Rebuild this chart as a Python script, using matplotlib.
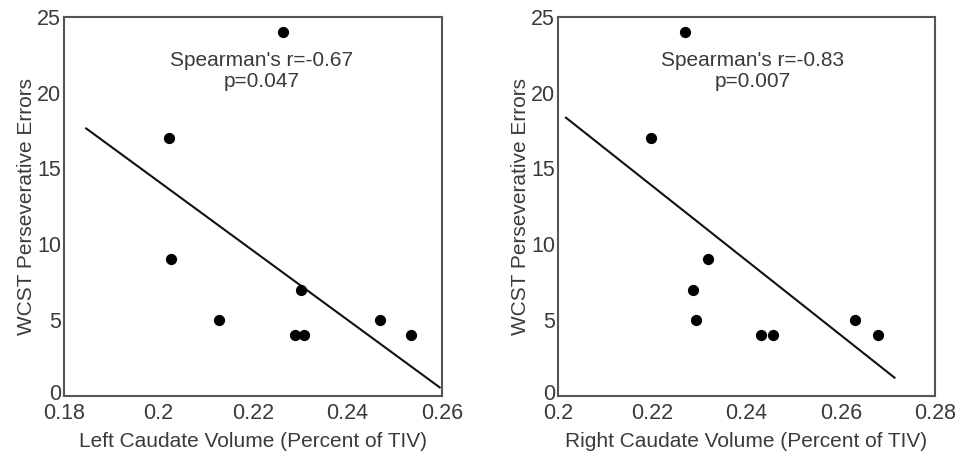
import numpy as np
import matplotlib
matplotlib.use("Agg")
import matplotlib.pyplot as plt
import matplotlib.transforms as mtransforms
plt.rcParams["font.family"] = ["Liberation Sans", "DejaVu Sans"]
plt.rcParams["font.size"] = 12

# left caudate
left_x = [0.2263, 0.2023, 0.2026, 0.2128, 0.2288, 0.2307, 0.2301, 0.2469, 0.2535]
left_y = [24, 17, 9, 5, 4, 4, 7, 5, 4]
left_fit_x = [0.1847, 0.2595]
left_fit_y = [17.63, 0.55]

# right caudate
right_x = [0.2270, 0.2198, 0.2318, 0.2287, 0.2293, 0.2430, 0.2456, 0.2630, 0.2680]
right_y = [24, 17, 9, 7, 5, 4, 4, 5, 4]
right_fit_x = [0.2017, 0.2714]
right_fit_y = [18.34, 1.19]

left_ticks = [0.18, 0.2, 0.22, 0.24, 0.26]
right_ticks = [0.2, 0.22, 0.24, 0.26, 0.28]
y_ticks = [0, 5, 10, 15, 20, 25]

txt_col = "#3a3a3a"

fig = plt.figure(figsize=(9.62, 4.58), dpi=100)
ax1 = fig.add_axes([0.0665, 0.136, 0.393, 0.8275])
ax2 = fig.add_axes([0.580, 0.136, 0.392, 0.8275])

panels = [
    (ax1, left_x, left_y, left_fit_x, left_fit_y, left_ticks,
     "Left Caudate Volume (Percent of TIV)", "Spearman's r=-0.67\np=0.047", 0.522),
    (ax2, right_x, right_y, right_fit_x, right_fit_y, right_ticks,
     "Right Caudate Volume (Percent of TIV)", "Spearman's r=-0.83\np=0.007", 0.516),
]

for ax, xs, ys, fx, fy, xt, xlab, note, nx in panels:
    ax.plot(fx, fy, color="#111111", lw=1.5)
    ax.scatter(xs, ys, s=50, color="black", zorder=3)
    ax.set_xlim(xt[0], xt[-1])
    ax.set_ylim(0, 25)
    ax.set_xticks(xt)
    ax.set_xticklabels([f"{v:g}" for v in xt])
    ax.set_yticks(y_ticks)
    ax.tick_params(axis="both", length=0, colors=txt_col, labelsize=15.5)
    ax.tick_params(axis="x", pad=5)
    ax.tick_params(axis="y", pad=2)
    for sp in ax.spines.values():
        sp.set_color("#555555")
        sp.set_linewidth(1.5)
    ax.set_xlabel(xlab, color=txt_col, fontsize=15, labelpad=6)
    ax.set_ylabel("WCST Perseverative Errors", color=txt_col, fontsize=15, labelpad=1)
    ax.text(nx, 0.857, note, transform=ax.transAxes, ha="center", va="center",
            color=txt_col, fontsize=15, linespacing=1.15)

fig.canvas.draw()
# nudge the "0" label up a little so it clears the x tick labels
for ax in (ax1, ax2):
    lab0 = ax.get_yticklabels()[0]
    lab0.set_transform(lab0.get_transform() +
                       mtransforms.ScaledTranslation(0, 3 / 72, fig.dpi_scale_trans))

fig.savefig("out.png", dpi=100)
plt.close()
